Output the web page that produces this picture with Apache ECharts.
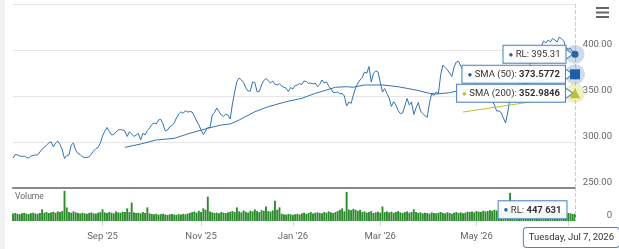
<!DOCTYPE html>
<html>
<head>
<meta charset="utf-8">
<script src="https://cdn.jsdelivr.net/npm/echarts@6/dist/echarts.min.js"></script>
<style>
  html, body { margin: 0; padding: 0; background: #fff; }
  #main { width: 619px; height: 249px; }
</style>
</head>
<body>
<div id="main"></div>
<script>
// trading days Jul 7 2025 -> Jul 7 2026 (NYSE holidays skipped)
var firstDay = '2025-07-07';
var lastDay = '2026-07-07';
var holidays = ['2025-09-01', '2025-11-27', '2025-12-25', '2026-01-01', '2026-01-19',
  '2026-02-16', '2026-04-03', '2026-05-25', '2026-06-19', '2026-07-03'];

// RL close
var closes = [
  282.6, 286.5, 285.9, 284.8, 284.2, 284.8, 283.2, 282.6, 284.8, 285.3,
  285.9, 285.9, 289.1, 292.4, 294.2, 296.7, 298.9, 300.3, 294.6, 298.9,
  301.1, 297.2, 291.3, 282.1, 285.3, 285.9, 296.7, 298.9, 291.3, 287.5,
  286.4, 283.7, 283.2, 283.2, 283.9, 287.0, 290.2, 292.7, 294.0, 298.9,
  306.5, 311.9, 315.8, 311.4, 307.6, 308.1, 310.8, 313.0, 313.6, 313.0,
  311.9, 306.0, 311.2, 308.7, 306.0, 307.6, 309.3, 302.2, 309.5, 307.6,
  312.5, 315.2, 319.0, 320.7, 319.6, 324.0, 324.5, 319.6, 311.9, 313.0,
  316.5, 317.9, 320.7, 326.1, 330.4, 332.8, 331.2, 334.0, 332.6, 333.1,
  332.6, 328.3, 322.8, 318.5, 313.0, 308.1, 311.9, 315.8, 315.8, 329.3,
  332.0, 336.9, 333.1, 329.3, 327.7, 330.4, 329.3, 325.0, 341.3, 354.3,
  365.8, 369.6, 367.4, 364.7, 358.7, 355.4, 355.4, 365.2, 364.7, 354.7,
  354.7, 362.0, 366.8, 369.0, 366.8, 364.1, 366.3, 362.5, 362.0, 363.3,
  360.9, 359.5, 358.4, 354.9, 359.2, 357.6, 361.4, 362.0, 363.6, 362.5,
  366.3, 365.8, 363.6, 364.1, 363.0, 364.1, 360.1, 362.5, 367.4, 364.1,
  365.2, 360.9, 357.6, 353.8, 353.8, 354.3, 352.2, 352.9, 350.0, 339.1,
  343.5, 341.8, 351.1, 358.7, 364.1, 367.4, 370.1, 376.1, 374.7, 382.1,
  365.2, 374.7, 377.2, 376.1, 365.2, 354.3, 358.1, 352.7, 347.8, 338.6,
  343.8, 340.2, 334.2, 330.9, 331.5, 339.1, 347.3, 340.2, 343.5, 329.9,
  336.9, 342.9, 333.7, 330.9, 328.7, 326.8, 342.4, 352.4, 350.5, 354.3,
  352.7, 372.8, 383.7, 381.0, 378.3, 375.0, 371.2, 381.5, 387.0, 387.7,
  382.1, 378.3, 375.6, 369.6, 367.4, 370.7, 368.5, 362.0, 358.7, 356.5,
  359.8, 357.6, 350.0, 346.7, 344.6, 340.2, 333.7, 333.7, 332.0, 326.1,
  320.7, 332.6, 348.9, 354.3, 360.9, 359.8, 363.0, 369.6, 376.1, 378.3,
  376.1, 384.8, 389.1, 394.6, 392.4, 397.8, 404.3, 409.8, 407.6, 410.9,
  408.7, 412.5, 410.9, 408.7, 414.1, 412.0, 409.8, 402.2, 401.1, 401.6,
  397.8, 395.31
];

// volume in thousands of shares
var volumesK = [
  470, 500, 450, 430, 480, 510, 460, 440, 490, 520, 470, 450, 500, 730,
  520, 560, 500, 540, 580, 520, 600, 560, 620, 1880, 850,
  560, 520, 600, 540, 500, 470, 520, 480, 450, 500, 540, 480, 460, 520, 560,
  730, 540, 500, 560, 520, 480, 600, 540, 520, 580, 560, 790, 560, 1150,
  540, 500, 520, 480, 560, 500, 850,
  480, 440, 420, 450, 400, 430, 460, 410, 380, 420, 440, 400, 390, 430, 410, 450, 420, 470, 500,
  560, 600, 520, 640, 560, 790, 700, 1520,
  600, 540, 500, 520, 480, 560, 520, 500, 540, 580, 620, 560, 850,
  600, 540, 660, 580, 520, 640, 600, 730, 620, 560, 680, 640, 910,
  620, 580, 660, 1270, 700, 850,
  460, 420, 400, 440, 420, 380, 430, 450, 410,
  480, 520, 450, 500, 560, 470, 520, 540, 500, 480, 560, 520, 600, 540, 500, 560, 620, 700,
  790, 600, 1820, 720, 680, 760, 700, 640, 700,
  560, 600, 520, 560, 620, 500, 540, 580, 520, 910,
  560, 600, 540, 580, 520, 560, 620, 540, 500, 560, 600, 520, 560, 730,
  560, 500, 540, 480, 520, 500, 460, 540, 500, 480, 520, 560, 500, 480, 540, 500, 460, 520, 560,
  500, 540, 480, 520, 580, 560,
  600, 540, 620, 580, 560, 640, 600, 620, 680, 640, 700, 660,
  600, 640, 580, 620, 660, 1760,
  600, 560, 540, 580, 520, 560, 600, 540, 500, 560, 520, 580, 540, 500, 560, 520, 480, 540,
  500, 520, 560, 500, 480, 520, 460, 500, 480, 440, 447.631
];

// [trading day index, value]
var sma50Points = [
  [50, 294.2], [57, 297.8], [64, 302.2], [72, 304.0], [79, 309.5], [87, 314.9], [93, 318.5],
  [97, 319.6], [101, 323.9], [108, 332.9], [114, 338.4], [122, 343.8], [129, 347.5],
  [135, 352.9], [140, 356.5], [144, 359.5], [149, 360.1], [152, 359.5], [157, 362.0],
  [165, 362.0], [172, 360.1], [180, 356.5], [186, 352.9], [189, 352.2], [195, 353.6],
  [199, 355.8], [210, 357.5], [220, 360.0], [230, 364.0], [240, 369.0], [251, 373.5772]
];
var sma200Points = [[201, 332.6], [216, 338.0], [231, 343.5], [242, 348.5], [251, 352.9846]];

var priceMin = 250, priceMax = 450, priceStep = 50;
var volumeMaxK = 2000;

var monthNames = ['Jan', 'Feb', 'Mar', 'Apr', 'May', 'Jun', 'Jul', 'Aug', 'Sep', 'Oct', 'Nov', 'Dec'];
var dayNames = ['Sunday', 'Monday', 'Tuesday', 'Wednesday', 'Thursday', 'Friday', 'Saturday'];

function buildDays() {
  var out = [];
  var d = new Date(firstDay + 'T00:00:00Z');
  var end = new Date(lastDay + 'T00:00:00Z');
  while (d <= end) {
    var wd = d.getUTCDay();
    var s = d.toISOString().slice(0, 10);
    if (wd !== 0 && wd !== 6 && holidays.indexOf(s) < 0) out.push(s);
    d.setUTCDate(d.getUTCDate() + 1);
  }
  return out;
}
var days = buildDays();
var last = days.length - 1;

// label every other month, on its first trading day
function isTickDay(i) {
  if (i === 0) return false;
  var m = +days[i].slice(5, 7), pm = +days[i - 1].slice(5, 7);
  return m !== pm && m % 2 === 1;
}
function monthLabel(s) {
  return monthNames[+s.slice(5, 7) - 1] + " '" + s.slice(2, 4);
}
function longDate(s) {
  var d = new Date(s + 'T00:00:00Z');
  return dayNames[d.getUTCDay()] + ', ' + monthNames[d.getUTCMonth()] + ' ' + d.getUTCDate() + ', ' + d.getUTCFullYear();
}
function spaced(n) {
  return String(Math.round(n)).replace(/\B(?=(\d{3})+(?!\d))/g, ' ');
}

var font = 'Roboto, "Liberation Sans", Arial, sans-serif';
var blue = '#3572b0';
var olive = '#bcc12f';
var boxBorder = '#4f82bd';

function boxLabel(text, color, distance) {
  return {
    show: true,
    position: 'left',
    distance: distance,
    formatter: text,
    backgroundColor: 'rgba(255,255,255,0.92)',
    borderColor: boxBorder,
    borderWidth: 1,
    padding: [4, 5, 3, 5],
    color: '#333',
    fontSize: 9.5,
    fontFamily: font,
    rich: {
      dot: { color: color, fontSize: 8, fontFamily: font },
      b: { fontWeight: 'bold', color: '#333', fontSize: 9.5, fontFamily: font }
    }
  };
}
// little callout pointer between the box and the marker
function pointer(coord) {
  return {
    coord: coord, symbol: 'triangle', symbolSize: [11, 8], symbolRotate: -90, symbolOffset: [-6, 0],
    itemStyle: { color: '#fff', borderColor: boxBorder, borderWidth: 1 }, label: { show: false }
  };
}
function halo(coord, size, color) {
  return { coord: coord, symbol: 'circle', symbolSize: size, itemStyle: { color: color }, label: { show: false } };
}

var lastClose = [last, closes[last]];
var lastSma50 = sma50Points[sma50Points.length - 1];
var lastSma200 = sma200Points[sma200Points.length - 1];

var chart = echarts.init(document.getElementById('main'));
var option = {
  animation: false,
  textStyle: { fontFamily: font },
  grid: [
    { left: 13, right: 44, top: 4, height: 184 },
    { left: 13, right: 44, top: 189, height: 32 }
  ],
  axisPointer: { triggerOn: 'none' },
  xAxis: [
    {
      type: 'category', gridIndex: 0, data: days, boundaryGap: false,
      axisLabel: { show: false }, axisTick: { show: false },
      axisLine: { show: true, lineStyle: { color: '#888', width: 2 } },
      axisPointer: {
        show: true, value: days[last], status: 'show', type: 'line', z: 1,
        lineStyle: { color: '#cccccc', width: 1 }, label: { show: false }
      }
    },
    {
      type: 'category', gridIndex: 1, data: days, boundaryGap: false,
      axisLine: { show: false },
      axisTick: { show: true, interval: isTickDay, length: 5, lineStyle: { color: '#ccd6eb' } },
      axisLabel: { interval: isTickDay, formatter: monthLabel, color: '#666', fontSize: 9.5, margin: 11 },
      axisPointer: {
        show: true, value: days[last], status: 'show', type: 'line',
        lineStyle: { color: '#cccccc', width: 1 },
        label: {
          show: true,
          formatter: function (p) { return longDate(p.value); },
          backgroundColor: '#fff', borderColor: boxBorder, borderWidth: 1,
          color: '#333', fontSize: 9.5, fontFamily: font, padding: [5, 5, 4, 5], margin: 7
        }
      }
    }
  ],
  yAxis: [
    {
      type: 'value', gridIndex: 0, position: 'right',
      min: priceMin, max: priceMax, interval: priceStep,
      axisLine: { show: false }, axisTick: { show: false },
      splitLine: { lineStyle: { color: '#e6e6e6' } },
      axisLabel: {
        formatter: function (v) { return v.toFixed(2); },
        color: '#666', fontSize: 9.5, align: 'right', margin: 37,
        verticalAlign: 'bottom', showMaxLabel: false
      }
    },
    {
      type: 'value', gridIndex: 1, position: 'right',
      min: 0, max: volumeMaxK, interval: volumeMaxK,
      axisLine: { show: false }, axisTick: { show: false }, splitLine: { show: false },
      axisLabel: {
        color: '#666', fontSize: 9.5, align: 'right', margin: 37,
        verticalAlign: 'bottom', showMaxLabel: false
      }
    }
  ],
  series: [
    {
      name: 'RL', type: 'line', xAxisIndex: 0, yAxisIndex: 0, data: closes,
      showSymbol: false, color: blue, lineStyle: { color: blue, width: 1 },
      markPoint: {
        data: [
          halo(lastClose, 19, 'rgba(53,114,176,0.25)'),
          pointer(lastClose),
          { coord: lastClose, symbol: 'circle', symbolSize: 7,
            itemStyle: { color: '#2b63a5' },
            label: boxLabel('{dot|●} RL: ' + closes[last].toFixed(2), '#2b63a5', 6) }
        ]
      }
    },
    {
      name: 'SMA (50)', type: 'line', xAxisIndex: 0, yAxisIndex: 0, data: sma50Points,
      showSymbol: false, color: blue, lineStyle: { color: blue, width: 1 },
      markPoint: {
        data: [
          halo(lastSma50, 20, 'rgba(53,114,176,0.25)'),
          pointer(lastSma50),
          { coord: lastSma50, symbol: 'rect', symbolSize: 10,
            itemStyle: { color: '#1f5fa8' },
            label: boxLabel('{dot|●} SMA (50): {b|' + lastSma50[1].toFixed(4) + '}', '#2b63a5', 5) }
        ]
      }
    },
    {
      name: 'SMA (200)', type: 'line', xAxisIndex: 0, yAxisIndex: 0, data: sma200Points,
      showSymbol: false, color: olive, lineStyle: { color: olive, width: 1 },
      markPoint: {
        data: [
          halo(lastSma200, 20, 'rgba(200,205,60,0.3)'),
          pointer(lastSma200),
          { coord: lastSma200, symbol: 'triangle', symbolSize: 10,
            itemStyle: { color: olive },
            label: boxLabel('{dot|●} SMA (200): {b|' + lastSma200[1].toFixed(4) + '}', olive, 5) }
        ]
      }
    },
    {
      name: 'Volume', type: 'bar', xAxisIndex: 1, yAxisIndex: 1, data: volumesK,
      barCategoryGap: '15%', itemStyle: { color: '#2d8b2d' },
      markPoint: {
        data: [
          { coord: [last, volumesK[last]], symbol: 'circle', symbolSize: 1,
            itemStyle: { color: 'rgba(0,0,0,0)' },
            label: Object.assign(boxLabel('{dot|●} RL: {b|' + spaced(volumesK[last] * 1000) + '}', '#2b63a5', 8),
              { offset: [0, -4] }) }
        ]
      }
    }
  ],
  graphic: [
    { type: 'rect', left: 0, top: 0, shape: { width: 5, height: 249 }, style: { fill: '#f2f2f2' }, silent: true },
    { type: 'text', left: 15, top: 192, style: { text: 'Volume', fill: '#666', fontSize: 8.5, fontFamily: font } },
    { type: 'rect', left: 596, top: 7, shape: { width: 13, height: 2 }, style: { fill: '#666' } },
    { type: 'rect', left: 596, top: 11.5, shape: { width: 13, height: 2 }, style: { fill: '#666' } },
    { type: 'rect', left: 596, top: 16, shape: { width: 13, height: 2 }, style: { fill: '#666' } }
  ]
};
if (days.length !== closes.length || days.length !== volumesK.length) {
  console.log('length mismatch', days.length, closes.length, volumesK.length);
}
chart.setOption(option);
</script>
</body>
</html>
